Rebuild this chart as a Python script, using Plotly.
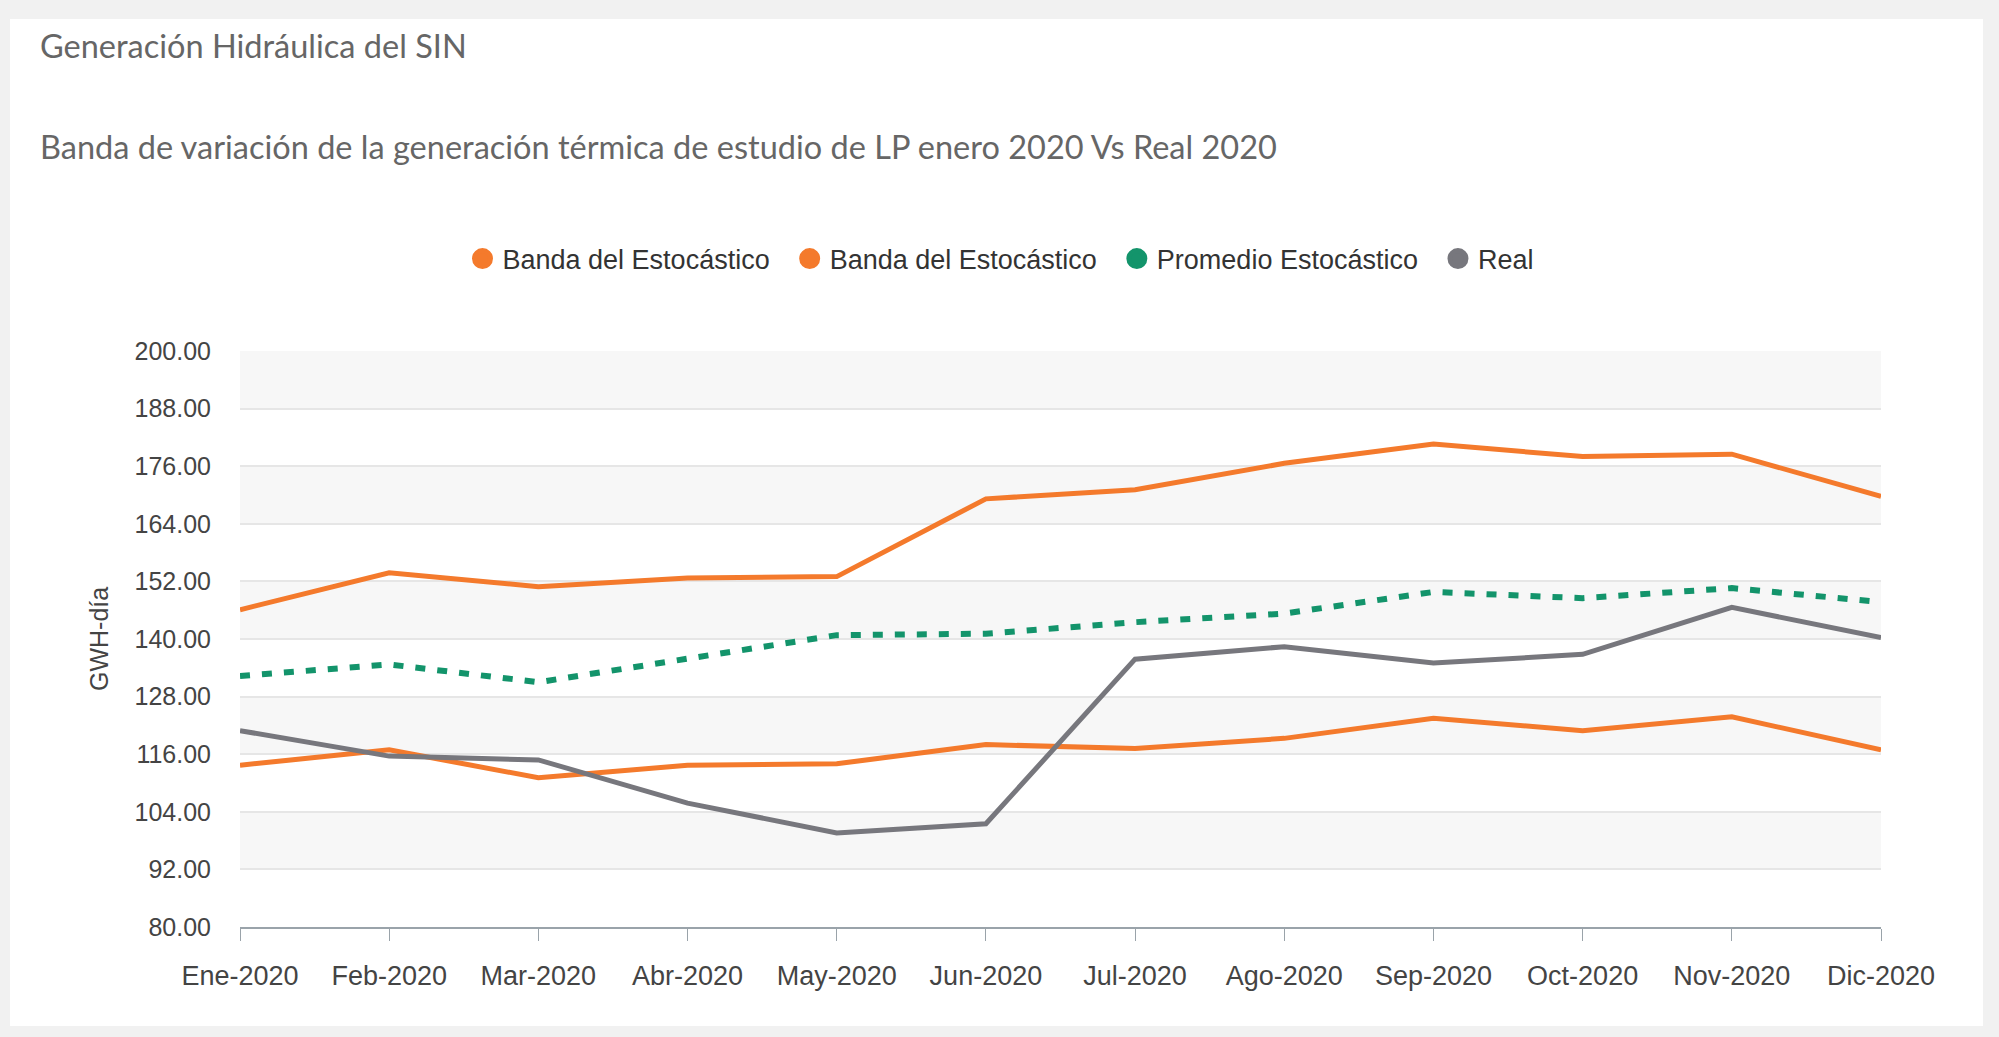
import plotly.graph_objects as go

meses = ["Ene-2020", "Feb-2020", "Mar-2020", "Abr-2020", "May-2020", "Jun-2020",
         "Jul-2020", "Ago-2020", "Sep-2020", "Oct-2020", "Nov-2020", "Dic-2020"]
banda_sup = [146.1, 153.8, 150.9, 152.7, 153.0, 169.2, 171.1, 176.6, 180.6, 178.0, 178.5, 169.7]
banda_inf = [113.7, 116.9, 111.1, 113.7, 114.0, 118.0, 117.2, 119.3, 123.5, 120.9, 123.8, 116.9]
promedio = [132.3, 134.7, 131.0, 136.0, 140.8, 141.1, 143.5, 145.3, 149.8, 148.5, 150.6, 147.7]
real = [120.9, 115.6, 114.8, 105.8, 99.6, 101.5, 135.8, 138.4, 135.0, 136.8, 146.6, 140.3]
y_ticks = [80, 92, 104, 116, 128, 140, 152, 164, 176, 188, 200]

titulo = "Generación Hidráulica del SIN"
subtitulo = "Banda de variación de la generación térmica de estudio de LP enero 2020 Vs Real 2020"
nombres = ["Banda del Estocástico", "Banda del Estocástico", "Promedio Estocástico", "Real"]

NARANJA = "#f47a2c"
VERDE = "#13946b"
GRIS = "#77777d"
FONDO = "#f1f1f1"

W, H = 1999, 1037
L, R, T, B = 240, 118, 351, 110
pw = W - L - R
ph = H - T - B

def px_x(x):
    return (x - L) / pw

def px_y(y):
    return (H - B - y) / ph

fig = go.Figure()

series = [
    (banda_sup, NARANJA, "solid", 5, nombres[0], "g1"),
    (banda_inf, NARANJA, "solid", 5, nombres[1], "g2"),
    (promedio, VERDE, "10px,12px", 6, nombres[2], "g3"),
    (real, GRIS, "solid", 5, nombres[3], "g4"),
]

for vals, color, dash, w, name, grp in series:
    fig.add_trace(go.Scatter(
        x=meses, y=vals, mode="lines", name=name, legendgroup=grp,
        showlegend=False,
        line=dict(color=color, width=w, dash=dash),
    ))

for vals, color, dash, w, name, grp in series:
    fig.add_trace(go.Scatter(
        x=[None], y=[None], mode="markers", name=name + "\u00a0\u00a0", legendgroup=grp,
        marker=dict(color=color, size=16, symbol="circle",
                    line=dict(color=color, width=5)),
    ))

shapes = [
    dict(type="rect", xref="paper", yref="paper",
         x0=px_x(10), x1=px_x(1983), y0=px_y(1026), y1=px_y(19),
         fillcolor="white", line=dict(width=0), layer="below"),
]
for i in range(len(y_ticks) - 1):
    if (len(y_ticks) - 2 - i) % 2 == 0:
        shapes.append(dict(type="rect", xref="paper", yref="y",
                           x0=0, x1=1, y0=y_ticks[i], y1=y_ticks[i + 1],
                           fillcolor="#f7f7f7", line=dict(width=0), layer="below"))

annotations = [
    dict(text=titulo, xref="paper", yref="paper", x=px_x(38), y=px_y(45),
         xanchor="left", yanchor="middle", showarrow=False,
         font=dict(family="Lato", size=32.5, color="#666666")),
    dict(text=subtitulo, xref="paper", yref="paper", x=px_x(38), y=px_y(147),
         xanchor="left", yanchor="middle", showarrow=False,
         font=dict(family="Lato", size=32.5, color="#666666")),
    dict(text="GWH-día", xref="paper", yref="paper", x=px_x(99), y=0.5,
         xanchor="center", yanchor="middle", showarrow=False, textangle=-90,
         font=dict(family="Liberation Sans", size=25, color="#444444")),
]

fig.update_layout(
    width=W, height=H,
    margin=dict(l=L, r=R, t=T, b=B, pad=0),
    paper_bgcolor=FONDO,
    plot_bgcolor="rgba(0,0,0,0)",
    font=dict(family="Liberation Sans", size=26, color="#444444"),
    shapes=shapes,
    annotations=annotations,
    legend=dict(orientation="h", xref="container", yref="container",
                x=0.5 + 9 / W, xanchor="center", y=1 - 259 / H, yanchor="middle",
                font=dict(family="Liberation Sans", size=27, color="#333333"),
                bgcolor="rgba(0,0,0,0)", itemwidth=30),
    showlegend=True,
)

fig.update_xaxes(
    type="category", range=[0, len(meses) - 1],
    showgrid=False, showline=True, linecolor="#9aa3aa", linewidth=2,
    ticks="outside", ticklen=12, tickcolor="#9aa3aa", tickwidth=1,
    ticklabelstandoff=12, zeroline=False,
    tickfont=dict(family="Liberation Sans", size=27, color="#444444"),
)
fig.update_yaxes(
    range=[y_ticks[0], y_ticks[-1]], tickmode="array", tickvals=y_ticks,
    tickformat=".2f", showgrid=True, gridcolor="#e6e6e6", gridwidth=2,
    zeroline=False, showline=False, ticks="", ticklabelstandoff=28,
    tickfont=dict(family="Liberation Sans", size=25, color="#444444"),
)

fig.write_html(
    "out.html",
    config={"displayModeBar": False},
    post_script="document.body.style.margin='0';document.body.style.background='" + FONDO + "';window.dispatchEvent(new Event('resize'));",
)
